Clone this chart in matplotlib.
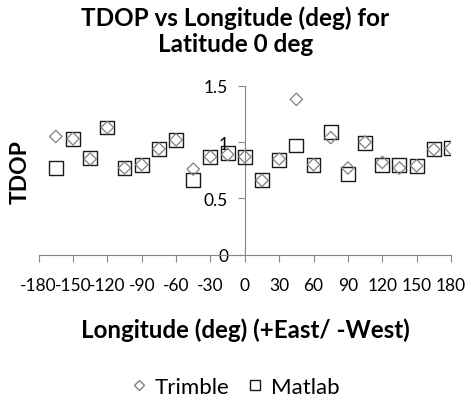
import matplotlib
matplotlib.use("Agg")
import matplotlib.pyplot as plt
from matplotlib.lines import Line2D

plt.rcParams['font.family'] = ['Lato', 'DejaVu Sans']

longitude = [-165, -150, -135, -120, -105, -90, -75, -60, -45, -30, -15, 0,
             15, 30, 45, 60, 75, 90, 105, 120, 135, 150, 165, 180]
trimble = [1.05, 1.03, 0.85, 1.13, 0.77, 0.80, 0.94, 1.02, 0.76, 0.87, 0.89, 0.87,
           0.66, 0.85, 1.38, 0.80, 1.04, 0.77, 1.00, 0.82, 0.77, 0.79, 0.935, 0.945]
matlab = [0.77, 1.03, 0.86, 1.13, 0.77, 0.80, 0.94, 1.02, 0.66, 0.87, 0.90, 0.87,
          0.66, 0.84, 0.97, 0.80, 1.09, 0.72, 0.99, 0.80, 0.80, 0.79, 0.935, 0.945]
xticks = [-180, -150, -120, -90, -60, -30, 0, 30, 60, 90, 120, 150, 180]
yticks = [0, 0.5, 1, 1.5]
yticklabels = ['0', '0.5', '1', '1.5']

fig = plt.figure(figsize=(4.71, 4.02), dpi=100)
ax = fig.add_axes([0.082, 0.364, 0.9575 - 0.082, 0.784 - 0.364])

ax.scatter(longitude, matlab, marker='s', s=100, facecolors='none',
           edgecolors='#1a1a1a', linewidths=1.0, zorder=3)
ax.scatter(longitude, trimble, marker='D', s=40, facecolors='none',
           edgecolors='#808080', linewidths=0.9, zorder=4)

ax.set_xlim(-180, 180)
ax.set_ylim(0, 1.5)
ax.set_xticks(xticks)
ax.set_xticklabels([str(v) for v in xticks])
ax.set_yticks(yticks)
ax.set_yticklabels(yticklabels)

for s in ['top', 'right']:
    ax.spines[s].set_visible(False)
ax.spines['left'].set_position(('data', 0))
ax.spines['left'].set_color('#868686')
ax.spines['bottom'].set_color('#868686')
ax.tick_params(axis='both', colors='#868686', labelcolor='black', labelsize=12.5,
               direction='out', length=5)
ax.tick_params(axis='x', pad=11)
ax.tick_params(axis='y', pad=7)

fig.text(0.5, 0.923, 'TDOP vs Longitude (deg) for\nLatitude 0 deg', ha='center',
         va='center', fontsize=17.5, fontweight='bold', linespacing=1.15)
fig.text(0.042, 0.572, 'TDOP', rotation=90, ha='center', va='center',
         fontsize=16.5, fontweight='bold')
fig.text(0.52, 0.179, 'Longitude (deg) (+East/ -West)', ha='center', va='center',
         fontsize=17.4, fontweight='bold')

handles = [Line2D([], [], marker='D', linestyle='none', markerfacecolor='none',
                  markeredgecolor='#808080', markersize=5.6, label='Trimble'),
           Line2D([], [], marker='s', linestyle='none', markerfacecolor='none',
                  markeredgecolor='#1a1a1a', markersize=7.2, label='Matlab')]
fig.legend(handles=handles, loc='center', bbox_to_anchor=(0.5, 0.036), ncol=2,
           frameon=False, fontsize=16, handletextpad=0.35, columnspacing=0.8,
           handlelength=0.7)

fig.savefig('out.png', dpi=100)
